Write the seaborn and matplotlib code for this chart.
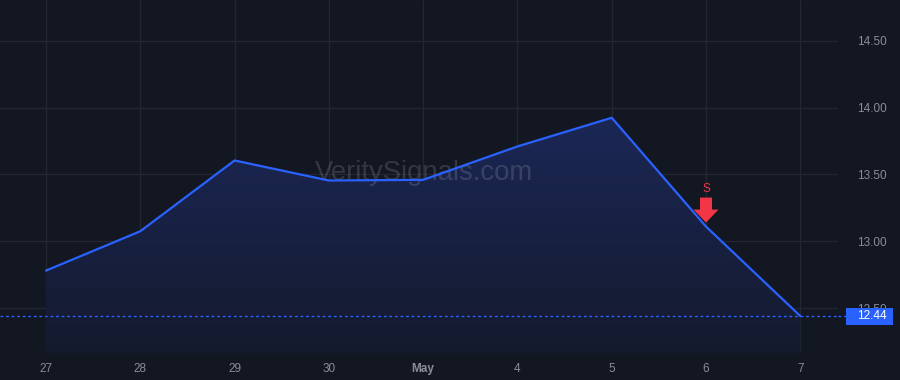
import numpy as np
import pandas as pd
import matplotlib
matplotlib.use("Agg")
import matplotlib.pyplot as plt
import seaborn as sns
from matplotlib import transforms
from matplotlib.patches import Polygon, Rectangle
from matplotlib.colors import LinearSegmentedColormap
from matplotlib.transforms import IdentityTransform

# ---- data ----
labels = ["27", "28", "29", "30", "May", "4", "5", "6", "7"]
prices = [12.78, 13.075, 13.605, 13.455, 13.46, 13.71, 13.925, 13.11, 12.44]
yticks = [12.50, 13.00, 13.50, 14.00, 14.50]
last_price = 12.44
signal_label = "S"
signal_index = 7
watermark = "VeritySignals.com"

BG = "#131722"
GRID = "#232734"
TXT = "#8a8d96"
LINE = "#2962FF"
RED = "#F23645"

sns.set_theme(style="dark")
plt.rcParams["font.family"] = ["Liberation Sans", "DejaVu Sans"]

df = pd.DataFrame({"x": np.arange(len(labels)), "price": prices})

W, H = 900, 380
fig = plt.figure(figsize=(9, 3.8), dpi=100, facecolor=BG)
ax = fig.add_axes([0, 27 / H, 838 / W, 353 / H])
ax.set_facecolor(BG)

ymin, ymax = 12.163, 14.807
ax.set_xlim(-0.488, 8.40)
ax.set_ylim(ymin, ymax)

# gradient fill under line
grad = np.linspace(0, 1, 256).reshape(-1, 1)
cmap = LinearSegmentedColormap.from_list("g", ["#141a2d", "#1b2756"])
im = ax.imshow(grad, extent=[df.x.min(), df.x.max(), ymin, max(prices)],
               origin="lower", aspect="auto", cmap=cmap, zorder=1)
poly_xy = np.column_stack([np.r_[df.x.values, df.x.values[-1], df.x.values[0]],
                           np.r_[df.price.values, ymin, ymin]])
clip = Polygon(poly_xy, closed=True, transform=ax.transData, facecolor="none", edgecolor="none")
ax.add_patch(clip)
im.set_clip_path(clip)

sns.lineplot(data=df, x="x", y="price", ax=ax, color=LINE, linewidth=1.6, zorder=3)

# grid
ax.set_xticks(df.x.values)
ax.set_yticks(yticks)
ax.grid(True, color=GRID, linewidth=0.9, zorder=0)
ax.set_axisbelow(True)
for s in ax.spines.values():
    s.set_visible(False)

ax.yaxis.tick_right()
ax.set_yticklabels([f"{v:.2f}" for v in yticks], color=TXT, fontsize=8.5)
ax.set_xticklabels(labels, color=TXT, fontsize=8.5)
for t in ax.get_xticklabels():
    if t.get_text() == "May":
        t.set_fontweight("bold")
ax.tick_params(axis="y", length=0, pad=14)
ax.tick_params(axis="x", length=0, pad=7)
ax.set_xlabel("")
ax.set_ylabel("")

# last price line
ax.axhline(last_price, color=LINE, linewidth=1, linestyle=(0, (2, 2)), zorder=2)
ax.plot([1, 846 / 838], [last_price, last_price], transform=ax.get_yaxis_transform(),
        color=LINE, linewidth=1, linestyle=(0, (2, 2)), clip_on=False)
box_tr = transforms.blended_transform_factory(fig.transFigure, ax.transData)
px_per_unit = (353 / (ymax - ymin))
bh = 17 / px_per_unit
ax.add_patch(Rectangle((846 / W, last_price - bh / 2), 47 / W, bh, transform=box_tr,
                       facecolor=LINE, edgecolor="none", zorder=6, clip_on=False))
ax.text(887 / W, last_price, f"{last_price:.2f}", transform=box_tr,
        ha="right", va="center", color="white", fontsize=8.5, zorder=7, clip_on=False)

# watermark
ax.text(424 / 838, 0.51, watermark, transform=ax.transAxes, ha="center", va="center",
        color="#ffffff", alpha=0.14, fontsize=19.8, zorder=2)

# sell signal arrow
sx, sy = df.x[signal_index], df.price[signal_index]
px = 0.72  # points per pixel
arrow_pts = np.array([[-6, 29], [6, 29], [6, 17], [12.5, 17], [0, 4], [-12.5, 17], [-6, 17]]) * px
sxy = ax.transData.transform((sx, sy))
arrow_disp = arrow_pts * fig.dpi / 72.0 + sxy
arrow = Polygon(arrow_disp, closed=True, transform=IdentityTransform(), facecolor=RED,
                edgecolor="none", zorder=5)
ax.add_patch(arrow)
ax.annotate(signal_label, xy=(sx, sy), xytext=(0, 38 * px), textcoords="offset points",
            ha="center", va="center", color=RED, fontsize=8.5, zorder=5)

fig.savefig("out.png", dpi=100, facecolor=BG)
